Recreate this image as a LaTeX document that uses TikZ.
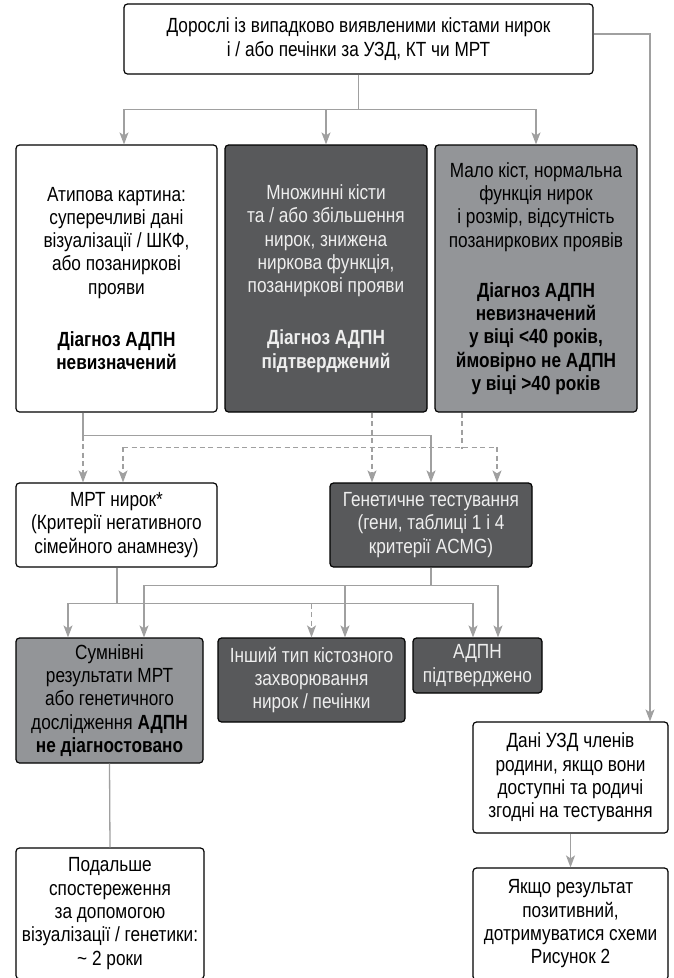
\documentclass[tikz,border=0pt]{standalone}
\usepackage{fontspec}
\setmainfont{Liberation Sans}[FakeStretch=0.84]
\usetikzlibrary{arrows.meta,calc}
\definecolor{darkbox}{RGB}{88,89,91}
\definecolor{graybox}{RGB}{147,149,152}
\definecolor{conncol}{RGB}{160,160,160}
\definecolor{lighttext}{RGB}{238,238,238}
\begin{document}
\begin{tikzpicture}[x=1pt,y=-1pt,
  box/.style={draw=black,line width=1.2pt,rounded corners=3.5pt,inner sep=0pt,align=center,font=\fontsize{20.5}{23.3}\selectfont},
  whitebox/.style={box,fill=white,text=black},
  darkb/.style={box,fill=darkbox,text=lighttext},
  grayb/.style={box,fill=graybox,text=black},
  conn/.style={draw=conncol,line width=1.3pt},
  arr/.style={conn,-{Stealth[length=12pt,width=9pt,inset=3pt]}},
  dsh/.style={dash pattern=on 5pt off 3.5pt}]
\fill[white] (0,0) rectangle (673,978);
\useasboundingbox (0,0) rectangle (673,978);

% boxes
\node[whitebox,minimum width=469pt,minimum height=70pt] (top) at (358.5,39)
  {Дорослі із випадково виявленими кістами нирок\\і / або печінки за УЗД, КТ чи МРТ};
\node[whitebox,minimum width=201pt,minimum height=267pt] (A) at (116.5,278.5)
  {Атипова картина:\\суперечливі дані\\візуалізації / ШКФ,\\або позаниркові\\прояви\\[29pt]\textbf{Діагноз АДПН}\\\textbf{невизначений}};
\node[darkb,minimum width=202pt,minimum height=267pt] (B) at (326,278.5)
  {Множинні кісти\\та / або збільшення\\нирок, знижена\\ниркова функція,\\позаниркові прояви\\[29pt]\textbf{Діагноз АДПН}\\\textbf{підтверджений}};
\node[grayb,minimum width=202pt,minimum height=267pt] (C) at (536,278.5)
  {Мало кіст, нормальна\\функція нирок\\і розмір, відсутність\\позаниркових проявів\\[27pt]\textbf{Діагноз АДПН}\\\textbf{невизначений}\\\textbf{у віці <40 років,}\\\textbf{ймовірно не АДПН}\\\textbf{у віці >40 років}};
\node[whitebox,minimum width=201pt,minimum height=84pt] (mrt) at (116.5,525)
  {МРТ нирок*\\(Критерії негативного\\сімейного анамнезу)};
\node[darkb,minimum width=202pt,minimum height=84pt] (gen) at (431,525)
  {Генетичне тестування\\(гени, таблиці 1 і 4\\критерії ACMG)};
\node[grayb,minimum width=187pt,minimum height=125pt] (sum) at (109.5,700.5)
  {Сумнівні\\результати МРТ\\або генетичного\\дослідження \textbf{АДПН}\\\textbf{не діагностовано}};
\node[darkb,minimum width=187pt,minimum height=84pt] (other) at (311.5,680)
  {Інший тип кістозного\\захворювання\\нирок / печінки};
\node[darkb,minimum width=129pt,minimum height=55pt] (adpn) at (477.5,665.5)
  {АДПН\\підтверджено};
\node[whitebox,minimum width=195pt,minimum height=111pt] (dani) at (570.5,777.5)
  {Дані УЗД членів\\родини, якщо вони\\доступні та родичі\\згодні на тестування};
\node[whitebox,minimum width=188pt,minimum height=131pt] (follow) at (110,913.5)
  {Подальше\\спостереження\\за допомогою\\візуалізації / генетики:\\\textasciitilde{} 2 роки};
\node[whitebox,minimum width=195pt,minimum height=112pt] (yak) at (570.5,924)
  {Якщо результат\\позитивний,\\дотримуватися схеми\\Рисунок 2};

% top -> row 2
\coordinate (j1) at ($(top.south)+(0,35)$);
\draw[conn] (top.south) -- (j1);
\draw[arr] (j1) -| ($(A.north)+(7.5,0)$);
\draw[arr] (j1) -| (B.north);
\draw[arr] (j1) -| (C.north);

% top -> family ultrasound
\draw[arr] ($(top.east)+(0,-5)$) -| ($(dani.north)+(79.5,0)$);

% row 2 -> row 3
\coordinate (ja) at ($(A.south)+(-33.5,23)$);
\draw[conn] ($(A.south)+(-33.5,0)$) -- (ja);
\draw[arr] (ja) -| (gen.north);
\draw[arr,dsh] (ja) -- (ja |- mrt.north);

\coordinate (jc) at ($(C.south)+(-74,36)$);
\coordinate (jcl) at ($(mrt.north)+(6.5,-35)$);
\coordinate (jcr) at ($(gen.north)+(66,-35)$);
\draw[conn,dsh] ($(C.south)+(-74,0)$) -- (jc);
\draw[conn,dsh] (jcl) -- (jcr);
\draw[arr,dsh] (jcl) -- ($(mrt.north)+(6.5,0)$);
\draw[arr,dsh] (jcr) -- ($(gen.north)+(66,0)$);

\draw[arr,dsh] ($(B.south)+(46,0)$) -- ($(gen.north)+(-59,0)$);

% row 3 -> row 4
\coordinate (jm) at ($(mrt.south)+(0.5,36)$);
\draw[conn] ($(mrt.south)+(0.5,0)$) -- (jm);
\draw[arr] (jm) -| ($(sum.north)+(-41.5,0)$);
\draw[arr] (jm) -| ($(adpn.north)+(-4.5,0)$);
\draw[arr,dsh] (jm -| other.north) -- (other.north);

\coordinate (jg) at ($(gen.south)+(0,18)$);
\draw[conn] (gen.south) -- (jg);
\draw[arr] (jg) -| ($(sum.north)+(34.5,0)$);
\draw[arr] (jg) -| ($(other.north)+(33.5,0)$);
\draw[arr] (jg) -| ($(adpn.north)+(20.5,0)$);

% row 4 -> bottom
\draw[conn] (sum.south) -- (follow.north);
\draw[arr] (dani.south) -- (yak.north);
\end{tikzpicture}
\end{document}
